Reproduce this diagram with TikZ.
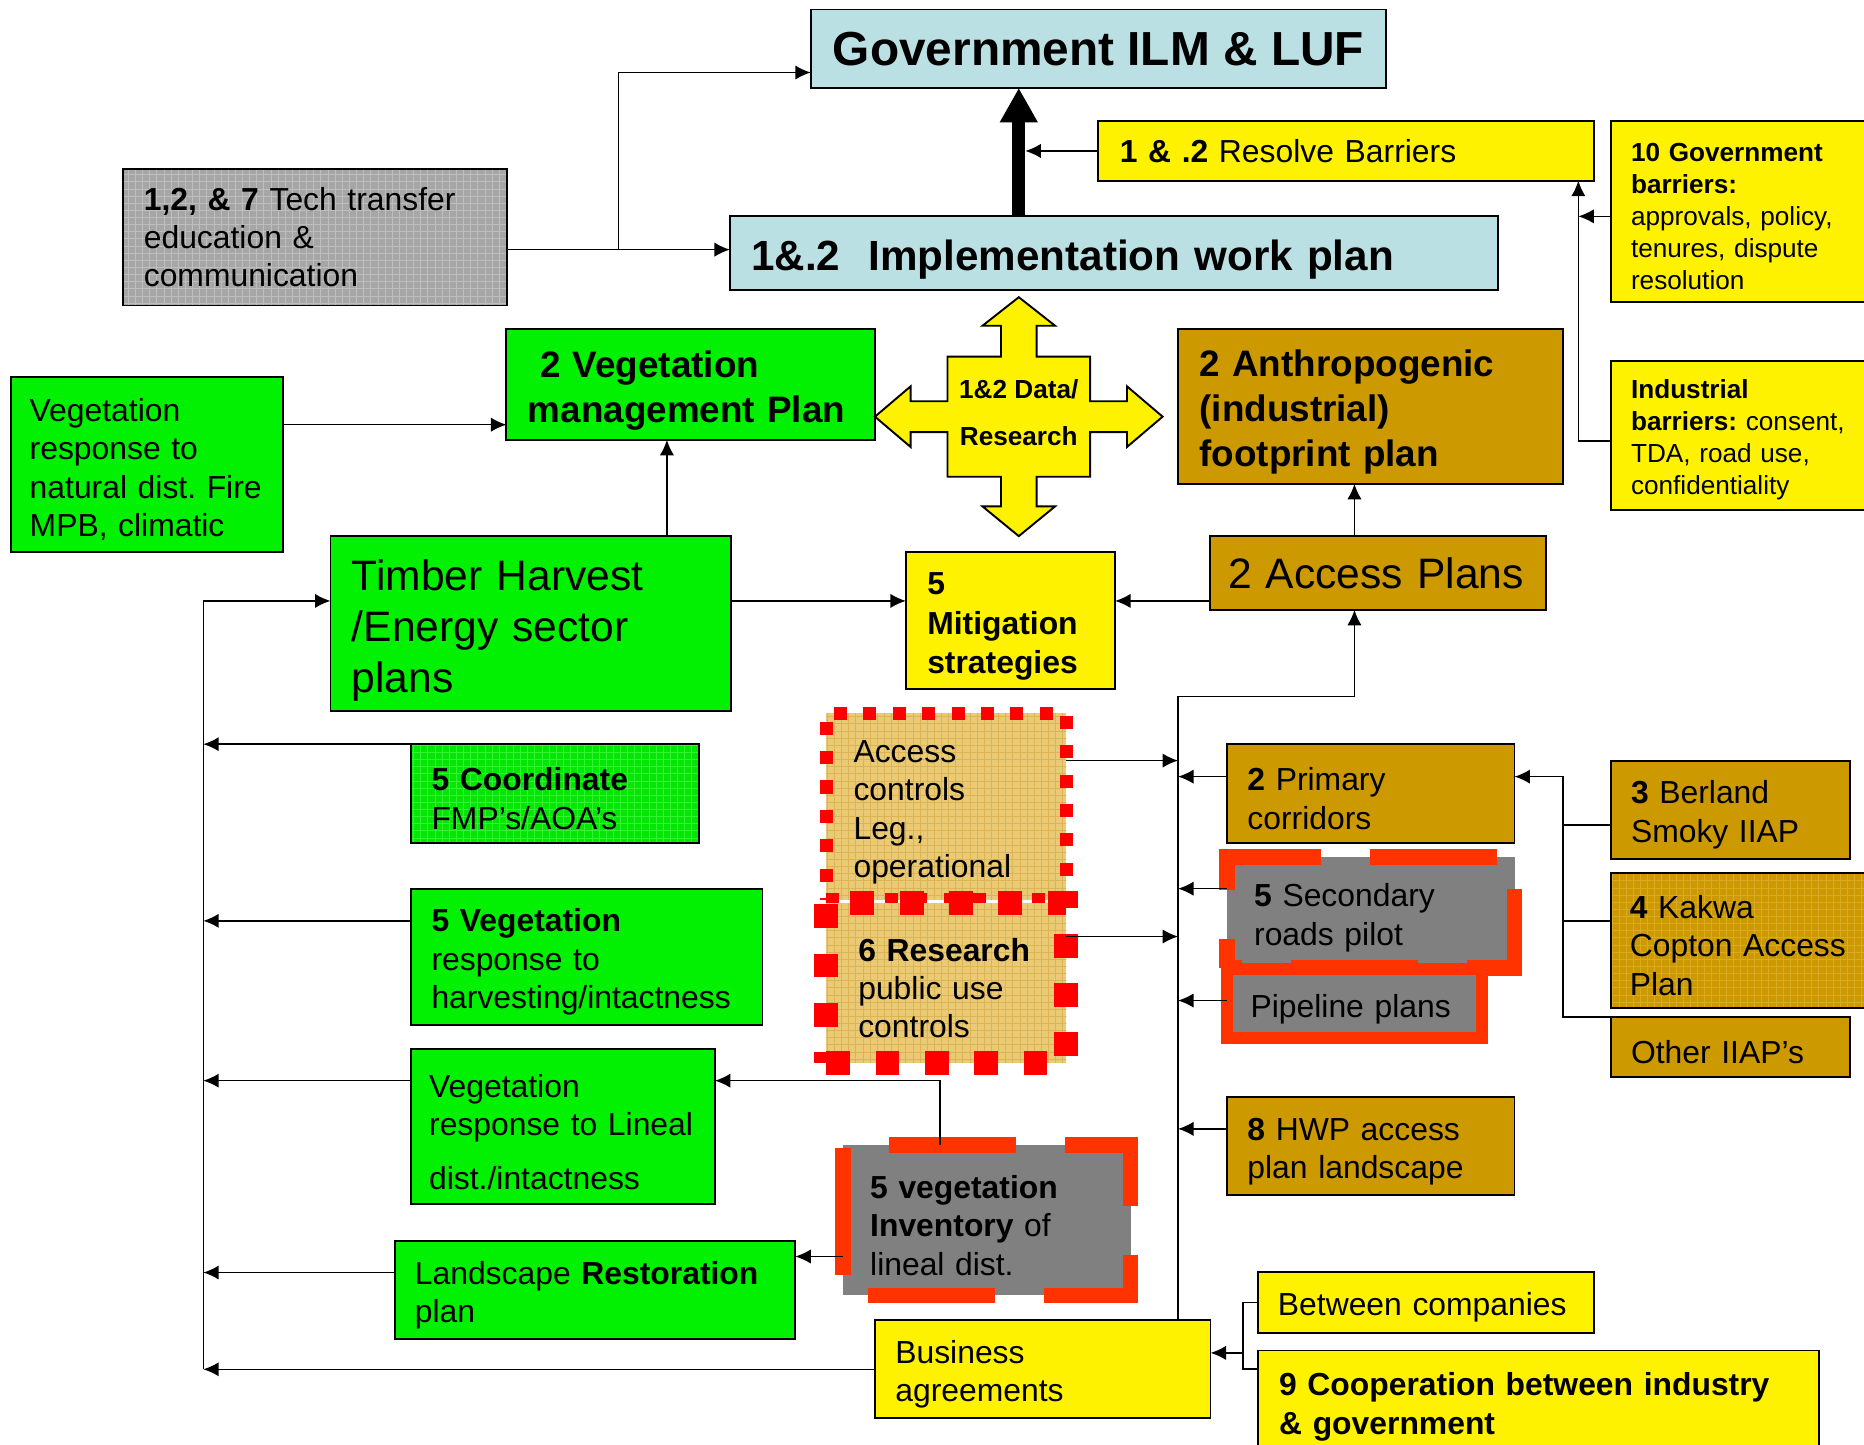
\documentclass[tikz,border=0pt]{standalone}
\usepackage{fontspec}
\setmainfont{Liberation Sans}
\usetikzlibrary{arrows.meta,patterns,calc}

\definecolor{govblue}{RGB}{187,224,227}
\definecolor{vgreen}{RGB}{2,240,2}
\definecolor{vgreenbase}{RGB}{6,230,6}
\definecolor{vgreenline}{RGB}{50,244,50}
\definecolor{gold}{RGB}{204,153,0}
\definecolor{goldline}{RGB}{218,170,34}
\definecolor{tanbase}{RGB}{234,202,116}
\definecolor{tanline}{RGB}{220,180,84}
\definecolor{techbase}{RGB}{166,166,166}
\definecolor{techline}{RGB}{190,190,190}
\definecolor{boxgray}{RGB}{128,128,128}
\definecolor{redorange}{RGB}{255,51,0}

\newcommand\txtnorm{\fontsize{13.4}{16.15}\selectfont}
\newcommand\txtsmall{\fontsize{11}{13.5}\selectfont}
\newcommand\txtdata{\fontsize{11}{20}\selectfont\bfseries}
\newcommand\txtmid{\fontsize{15.5}{19}\selectfont\bfseries}
\newcommand\txtbig{\fontsize{17.9}{21.5}\selectfont}
\newcommand\txtimpl{\fontsize{17.75}{21.6}\selectfont\bfseries}
\newcommand\txtgov{\fontsize{20.1}{24}\selectfont\bfseries}
\newcommand\txtmit{\fontsize{13.4}{16.5}\selectfont\bfseries}

\tikzset{
	frame/.style={draw=black, line width=0.8pt, anchor=north west, outer sep=0pt, inner ysep=0pt, inner xsep=9pt, align=left, font=\txtnorm},
	box/.style={frame, execute at begin node={\rule{0pt}{1.05em}}},
	bluebox/.style={box, fill=govblue},
	greenbox/.style={box, fill=vgreen},
	goldbox/.style={box, fill=gold},
	yellowbox/.style={box, fill=yellow},
	link/.style={line width=0.65pt, -{Latex[length=6.5pt,width=6pt]}},
	plain/.style={line width=0.65pt}
}

\begin{document}
\frenchspacing
\begin{tikzpicture}[x=0.5pt, y=-0.5pt]
	\useasboundingbox (0,0) rectangle (1568,1215);

	% top row
	\node [frame, fill=govblue, minimum width=242pt, minimum height=33pt, font=\txtgov, align=center] (gov) at (682,8) {Government ILM \& LUF};
	\node [bluebox, minimum width=323pt, minimum height=31pt, text width=305pt, font=\txtimpl] (impl) at (614,182) {1\&.2\ \ Implementation work plan};
	\node [frame, fill=yellow, minimum width=208.5pt, minimum height=25pt, text width=190.5pt] (resolve) at (924,102) {\textbf{1 \& .2} Resolve Barriers};
	\node [yellowbox, minimum width=110pt, minimum height=76pt, text width=93pt, inner xsep=8.5pt, font=\txtsmall] (govbar) at (1355,102) {\textbf{10 Government}\\\textbf{barriers:}\\approvals, policy,\\tenures, dispute\\resolution};
	\node [yellowbox, minimum width=110pt, minimum height=62.5pt, text width=93pt, inner xsep=8.5pt, font=\txtsmall] (indbar) at (1355,304) {\textbf{Industrial}\\\textbf{barriers:} consent,\\TDA, road use,\\confidentiality};
	\node [frame, preaction={fill=techbase}, pattern=grid, pattern color=techline, minimum width=161.5pt, minimum height=57.5pt, text width=144pt, inner xsep=8.75pt] (tech) at (103.5,142) {\textbf{1,2, \& 7} Tech transfer\\education \&\\communication};

	% vegetation side
	\node [greenbox, minimum width=155pt, minimum height=46.75pt, text width=137pt, font=\txtmid] (vegmgmt) at (426,276.5) {\ 2 Vegetation\\management Plan};
	\node [greenbox, minimum width=114.5pt, minimum height=73.5pt, text width=98.5pt, inner xsep=8pt] (vegnat) at (9,317) {Vegetation\\response to\\natural dist. Fire\\MPB, climatic};
	\node [greenbox, minimum width=168.5pt, minimum height=73.5pt, text width=150.5pt, font=\txtbig] (timber) at (278,451) {Timber Harvest\\/Energy sector\\plans};
	\node [box, preaction={fill=vgreenbase}, pattern=grid, pattern color=vgreenline, minimum width=121.3pt, minimum height=41.5pt, text width=103.7pt, inner xsep=8.8pt] (coord) at (345.4,626) {\textbf{5 Coordinate}\\FMP’s/AOA’s};
	\node [greenbox, minimum width=148pt, minimum height=57.5pt, text width=130.4pt, inner xsep=8.8pt] (veg5) at (345.4,747.5) {\textbf{5 Vegetation}\\response to\\harvesting/intactness};
	\node [greenbox, minimum width=128pt, minimum height=65.35pt, text width=112.4pt, inner xsep=7.8pt] (veglin) at (345.4,882.3) {Vegetation\\response to Lineal\\[6.5pt]dist./intactness};
	\node [greenbox, minimum width=168.5pt, minimum height=41.25pt, text width=151.5pt, inner xsep=8.5pt] (landrest) at (332,1043.8) {Landscape \textbf{Restoration}\\plan};

	% centre
	\draw [fill=yellow, line width=0.8pt] (857,250) -- (887.5,274) -- (872,274) -- (872,300) -- (917,300) -- (917,337.5) -- (948,337.5) -- (948,325) -- (978,350.5) -- (948,376) -- (948,363.5) -- (917,363.5) -- (917,401) -- (872,401) -- (872,426) -- (887.5,426) -- (857,451) -- (826.5,426) -- (842,426) -- (842,401) -- (797,401) -- (797,363.5) -- (766,363.5) -- (766,376) -- (736,350.5) -- (766,325) -- (766,337.5) -- (797,337.5) -- (797,300) -- (842,300) -- (842,274) -- (826.5,274) -- cycle;
	\node [font=\txtdata, align=center] (data) at (857,347) {1\&2 Data/\\Research};
	\node [yellowbox, minimum width=88pt, minimum height=57.5pt, text width=70pt, font=\txtmit] (mitig) at (762,464.7) {5\\Mitigation\\strategies};
	\node [box, draw=red, line width=5.5pt, dash pattern=on 5.5pt off 6.85pt, preaction={fill=tanbase}, pattern=grid, pattern color=tanline, minimum width=101pt, minimum height=78.5pt, text width=78pt, inner xsep=11.5pt] (accctl) at (695,600) {Access\\controls\\Leg.,\\operational};
	\node [box, draw=red, line width=10pt, dash pattern=on 10pt off 10.75pt, preaction={fill=tanbase}, pattern=grid, pattern color=tanline, minimum width=101pt, minimum height=67.2pt, text width=74pt, inner xsep=13.5pt] (research) at (695,759.6) {\textbf{6 Research}\\public use\\controls};
	\node [box, fill=boxgray, draw=redorange, line width=6.5pt, dash pattern=on 53.5pt off 20.5pt, dash phase=63.5pt, minimum width=121pt, minimum height=63.35pt, text width=98pt, inner xsep=11.5pt] (veginv) at (709,963) {\textbf{5 vegetation}\\\textbf{Inventory} of\\lineal dist.};
	\node [yellowbox, minimum width=141.15pt, minimum height=41.15pt, text width=124pt, inner xsep=8.5pt] (business) at (736,1110.7) {Business\\agreements};

	% access side
	\node [goldbox, minimum width=161.8pt, minimum height=65.25pt, text width=143.8pt, font=\txtmid] (anthro) at (991,276.5) {2 Anthropogenic\\(industrial)\\footprint plan};
	\node [frame, fill=gold, minimum width=141.35pt, minimum height=31pt, text width=126.35pt, inner xsep=7.5pt, font=\txtbig] (access) at (1018,451) {2 Access Plans};
	\node [goldbox, minimum width=120.85pt, minimum height=41.5pt, text width=103.8pt, inner xsep=8.5pt] (primary) at (1032.3,626) {\textbf{2} Primary\\corridors};
	\node [box, fill=boxgray, draw=redorange, line width=6.6pt, dash pattern=on 53.5pt off 20.5pt, dash phase=47pt, minimum width=121pt, minimum height=46.75pt, text width=98pt, inner xsep=11.5pt] (secondary) at (1032,721) {\textbf{5} Secondary\\roads pilot};
	\node [box, fill=boxgray, draw=redorange, line width=5pt, minimum width=107.5pt, minimum height=29.25pt, text width=87.5pt, inner xsep=10pt] (pipeline) at (1032,815) {Pipeline plans};
	\node [goldbox, minimum width=120.85pt, minimum height=41pt, text width=103.8pt, inner xsep=8.5pt] (hwp) at (1032.3,923) {\textbf{8} HWP access\\plan landscape};
	\node [goldbox, minimum width=100.5pt, minimum height=41.15pt, text width=83.5pt, inner xsep=8.5pt] (berland) at (1355,640) {\textbf{3} Berland\\Smoky IIAP};
	\node [box, preaction={fill=gold}, pattern=grid, pattern color=goldline, minimum width=110pt, minimum height=57pt, text width=94pt, inner xsep=8pt] (kakwa) at (1355,734) {\textbf{4} Kakwa\\Copton Access\\Plan};
	\node [goldbox, minimum width=100.5pt, minimum height=25.15pt, text width=83.5pt, inner xsep=8.5pt] (other) at (1355,855.5) {Other IIAP’s};
	\node [yellowbox, minimum width=141.5pt, minimum height=25.5pt, text width=124.5pt, inner xsep=8.5pt] (between) at (1058,1070) {Between companies};
	\node [yellowbox, minimum width=236pt, minimum height=43pt, text width=218pt] (coop) at (1058,1136) {\textbf{9 Cooperation between industry}\\\textbf{\& government}};

	% connectors, top
	\draw [line width=5.5pt, -{Triangle[length=14.5pt,width=15pt]}] (data |- impl.north) -- (data |- gov.south);
	\coordinate (branch) at ($(tech.east |- impl.west)!0.5!(impl.west)$);
	\draw [link] ([yshift=1.5pt]tech.east |- impl.west) -- ([yshift=1.5pt]impl.west);
	\draw [plain] ([yshift=1.5pt]branch) |- ([yshift=-10pt]gov.west);
	\draw [link] ([yshift=-10pt]gov.west -| branch) -- ([yshift=-10pt]gov.west);
	\draw [link] (resolve.west) -- ([xshift=2.75pt]data |- resolve.west);
	\coordinate (barline) at ([xshift=-6.65pt]resolve.south east);
	\draw [link] ([yshift=-2.25pt]indbar.west) -| (barline);
	\draw [link] ([yshift=-2pt]govbar.west) -- ([yshift=-2pt]govbar.west -| barline);

	% vegetation
	\draw [link] ([yshift=-17pt]vegmgmt.west -| vegnat.east) -- ([yshift=-17pt]vegmgmt.west);
	\draw [link] ([xshift=-10pt]vegmgmt.south |- timber.north) -- ([xshift=-10pt]vegmgmt.south);
	\coordinate (mitin) at ([yshift=8.35pt]mitig.west);
	\coordinate (mitout) at ([yshift=8.35pt]mitig.east);
	\draw [link] (timber.east |- mitin) -- (mitin);
	\draw [link] (access.west |- mitout) -- (mitout);
	\draw [link] ([xshift=-10pt]access.north) -- ([xshift=-10pt]access.north |- anthro.south);

	\coordinate (busleft) at ([xshift=-282.5pt]business.west);
	\coordinate (timberin) at ([yshift=9.5pt]timber.west);
	\draw [link] (busleft) |- (timberin);
	\draw [link] (business.west) -- (busleft);
	\draw [link] (coord.north west) -- (coord.north west -| busleft);
	\draw [link] ([yshift=15.2pt]veg5.west) -- ([yshift=15.2pt]veg5.west -| busleft);
	\draw [link] ([yshift=19.3pt]veglin.west) -- ([yshift=19.3pt]veglin.west -| busleft);
	\draw [link] ([yshift=7.3pt]landrest.west) -- ([yshift=7.3pt]landrest.west -| busleft);
	\coordinate (linin) at ([yshift=19.3pt]veglin.east);
	\draw [link] ([xshift=-19.75pt]veginv.north) |- (linin);
	\draw [link] ([yshift=-15.3pt]veginv.west) -- ([yshift=-15.3pt]veginv.west -| landrest.east);

	% access
	\coordinate (vbot) at (anthro.west |- business.north);
	\coordinate (vtop) at ([xshift=-10pt,yshift=-36.5pt]access.south);
	\draw [link] (vbot) |- (vtop) -- ([xshift=-10pt]access.south);
	\draw [link] ([yshift=19.35pt]accctl.east) -- ([yshift=19.35pt]accctl.east -| vbot);
	\draw [link] ([yshift=19.5pt]research.east) -- ([yshift=19.5pt]research.east -| vbot);
	\draw [link] ([yshift=7.1pt]primary.west) -- ([yshift=7.1pt]primary.west -| vbot);
	\draw [link] ([yshift=10.1pt]secondary.west) -- ([yshift=10.1pt]secondary.west -| vbot);
	\draw [link] ([yshift=1.3pt]pipeline.west) -- ([yshift=1.3pt]pipeline.west -| vbot);
	\draw [link] ([yshift=7.2pt]hwp.west) -- ([yshift=7.2pt]hwp.west -| vbot);

	\coordinate (prin) at ([yshift=7.1pt]primary.east);
	\draw [link] (other.north west) -| (anthro.east |- prin) -- (prin);
	\draw [plain] ([yshift=-6.4pt]berland.west) -- ([yshift=-6.4pt]berland.west -| anthro.east);
	\draw [plain] ([yshift=8.2pt]kakwa.west) -- ([yshift=8.2pt]kakwa.west -| anthro.east);

	\coordinate (bj) at ([xshift=-6.25pt]between.west);
	\coordinate (bizin) at ([yshift=6.9pt]business.east);
	\draw [plain] (between.west) -- (bj) |- ([yshift=13.8pt]coop.west);
	\draw [link] (bj |- bizin) -- (bizin);
\end{tikzpicture}
\end{document}
